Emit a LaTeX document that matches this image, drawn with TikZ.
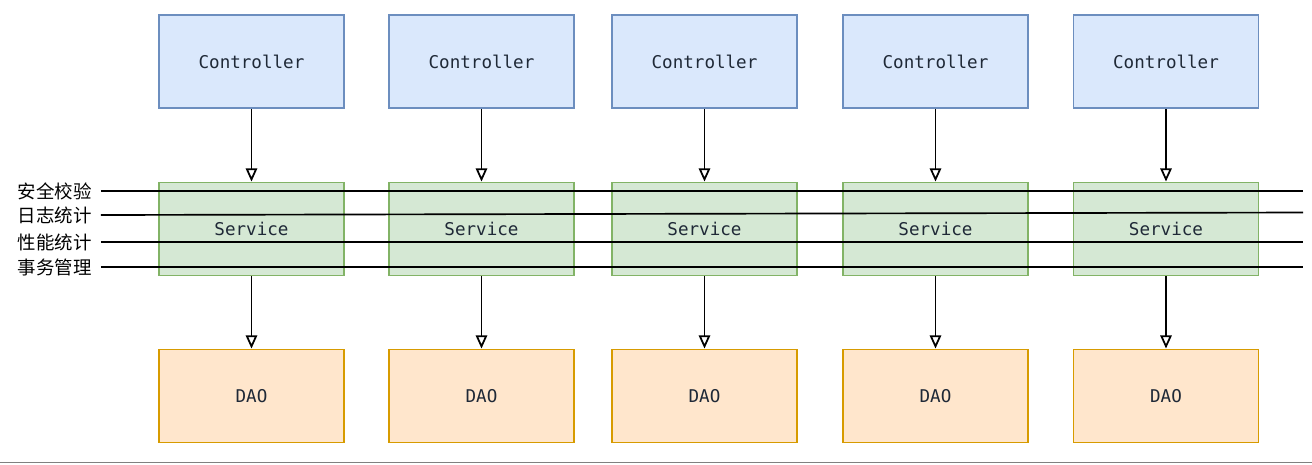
\documentclass[tikz,border=0pt]{standalone}
\usepackage{fontspec}
\setmonofont{DejaVu Sans Mono}
\newfontfamily\cjk{Noto Sans CJK SC}
\usetikzlibrary{arrows.meta}
\definecolor{ctlfill}{HTML}{DAE8FC}
\definecolor{ctldraw}{HTML}{6C8EBF}
\definecolor{srvfill}{HTML}{D5E8D4}
\definecolor{srvdraw}{HTML}{82B366}
\definecolor{daofill}{HTML}{FFE6CC}
\definecolor{daodraw}{HTML}{D79B00}
\definecolor{txt}{HTML}{1F2937}
\begin{document}
\begin{tikzpicture}[x=0.02cm, y=-0.02cm,
    layer/.style={draw, line width=1.1pt, minimum width=3.7cm, minimum height=1.86cm,
                  font=\ttfamily\fontsize{10}{12}\selectfont, text=txt},
    ctl/.style={layer, fill=ctlfill, draw=ctldraw},
    srv/.style={layer, fill=srvfill, draw=srvdraw},
    dao/.style={layer, fill=daofill, draw=daodraw},
    call/.style={-{Triangle[open, length=7.5pt, width=6.5pt]}, line width=1pt, black},
    aspect/.style={anchor=east, inner sep=0pt, font=\cjk\fontsize{10.5}{12}\selectfont},
    cut/.style={line width=0.95pt, black}]
  \useasboundingbox (0,0) rectangle (1312,464);
                    \node[ctl] (c1) at (251.5,61.5) {Controller};
                    \node[srv] (s1) at (251.5,229) {Service};
                    \node[dao] (d1) at (251.5,396) {DAO};
                    \draw[call] (c1) -- (s1);
                    \draw[call] (s1) -- (d1);
                    \node[ctl] (c2) at (481.5,61.5) {Controller};
                    \node[srv] (s2) at (481.5,229) {Service};
                    \node[dao] (d2) at (481.5,396) {DAO};
                    \draw[call] (c2) -- (s2);
                    \draw[call] (s2) -- (d2);
                    \node[ctl] (c3) at (704.5,61.5) {Controller};
                    \node[srv] (s3) at (704.5,229) {Service};
                    \node[dao] (d3) at (704.5,396) {DAO};
                    \draw[call] (c3) -- (s3);
                    \draw[call] (s3) -- (d3);
                    \node[ctl] (c4) at (935.5,61.5) {Controller};
                    \node[srv] (s4) at (935.5,229) {Service};
                    \node[dao] (d4) at (935.5,396) {DAO};
                    \draw[call] (c4) -- (s4);
                    \draw[call] (s4) -- (d4);
                    \node[ctl] (c5) at (1166,61.5) {Controller};
                    \node[srv] (s5) at (1166,229) {Service};
                    \node[dao] (d5) at (1166,396) {DAO};
                    \draw[call] (c5) -- (s5);
                    \draw[call] (s5) -- (d5);
                    % cross-cutting concerns
                    \node[aspect] (a1) at (92,191) {安全校验};
                    \node[aspect] (a2) at (92,215) {日志统计};
                    \node[aspect] (a3) at (92,242) {性能统计};
                    \node[aspect] (a4) at (92,267) {事务管理};
                    \coordinate (e1) at (1303,191);
                    \coordinate (e2) at (1303,212.5);
                    \coordinate (e3) at (1303,242);
                    \coordinate (e4) at (1303,267);
                    \draw[cut] ([xshift=5pt]a1.east) -- (e1);
                    \draw[cut] ([xshift=5pt]a2.east) -- (e2);
                    \draw[cut] ([xshift=5pt]a3.east) -- (e3);
                    \draw[cut] ([xshift=5pt]a4.east) -- (e4);
                    \coordinate (b1) at (0,462.5);
                    \coordinate (b2) at (1312,462.5);
                    \draw[line width=1.1pt, gray] (b1) -- (b2);
\end{tikzpicture}
\end{document}
